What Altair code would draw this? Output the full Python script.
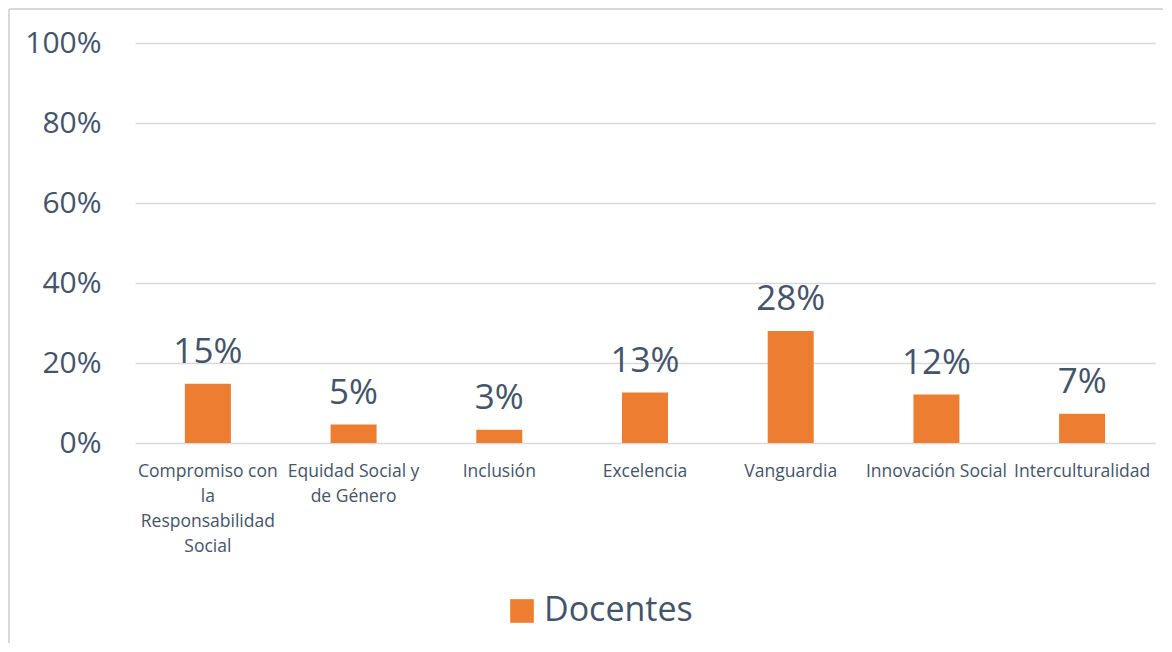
import altair as alt
import pandas as pd

categories = ["Compromiso con la Responsabilidad Social", "Equidad Social y de Género", "Inclusión",
              "Excelencia", "Vanguardia", "Innovación Social", "Interculturalidad"]
axis_labels = ["Compromiso con|la|Responsabilidad|Social", "Equidad Social y|de Género", "Inclusión",
               "Excelencia", "Vanguardia", "Innovación Social", "Interculturalidad"]
values = [14.8, 4.6, 3.3, 12.6, 28.0, 12.1, 7.3]
value_labels = ["15%", "5%", "3%", "13%", "28%", "12%", "7%"]
series = "Docentes"

df = pd.DataFrame({
    "cat": categories,
    "lab": axis_labels,
    "val": [v / 100 for v in values],
    "txt": value_labels,
    "series": [series] * len(categories),
})

FONT = "Open Sans"
TXT = "#44546A"
ORANGE = "#ED7D31"
BORDER = "#D9D9D9"

mapping = "{" + ",".join([f"'{c}': '{l}'" for c, l in zip(categories, axis_labels)]) + "}"
label_expr = f"split({mapping}[datum.label], '|')"

x = alt.X("cat:N", sort=categories, title=None,
          axis=alt.Axis(labelAngle=0, labelExpr=label_expr, labelFontSize=17.5, labelColor=TXT,
                        labelFont=FONT, labelPadding=19, labelLineHeight=25, labelLimit=200,
                        ticks=False, domain=False, grid=False, labelBaseline="top"),
          scale=alt.Scale(paddingInner=0.68, paddingOuter=0.34))
y = alt.Y("val:Q", title=None, scale=alt.Scale(domain=[0, 1]),
          axis=alt.Axis(format=".0%", values=[0, 0.2, 0.4, 0.6, 0.8, 1.0], labelFontSize=30,
                        labelColor=TXT, labelFont=FONT, labelPadding=34, ticks=False,
                        domain=False, grid=True, gridColor=BORDER, gridWidth=1.5))

bars = alt.Chart(df).mark_bar(color=ORANGE, size=46).encode(
    x=x, y=y,
    color=alt.Color("series:N", scale=alt.Scale(range=[ORANGE]),
                    legend=alt.Legend(title=None, orient="none", legendX=370, legendY=551,
                                      symbolType="square", symbolSize=560, symbolStrokeWidth=0,
                                      labelFontSize=34, labelFont=FONT, labelColor=TXT,
                                      labelOffset=5, padding=0)),
)

text = alt.Chart(df).mark_text(baseline="bottom", dy=-14, fontSize=35, font=FONT, color=TXT).encode(
    x=alt.X("cat:N", sort=categories), y="val:Q", text="txt:N"
)

one = pd.DataFrame({"a": [0]})
left_edge = alt.Chart(one).mark_rule(color=BORDER, strokeWidth=2).encode(
    x=alt.value(-126), y=alt.value(-34), y2=alt.value(640))
top_edge = alt.Chart(one).mark_rule(color=BORDER, strokeWidth=2).encode(
    x=alt.value(-126), x2=alt.value(1040), y=alt.value(-34))

chart = alt.layer(left_edge, top_edge, bars, text).properties(
    width=1020, height=400,
    padding={"left": 127, "top": 35, "right": 8, "bottom": 200},
    autosize=alt.AutoSizeParams(type="none"),
).configure_view(stroke=None)

chart.save("out.html", embed_options={"renderer": "svg", "actions": False})
